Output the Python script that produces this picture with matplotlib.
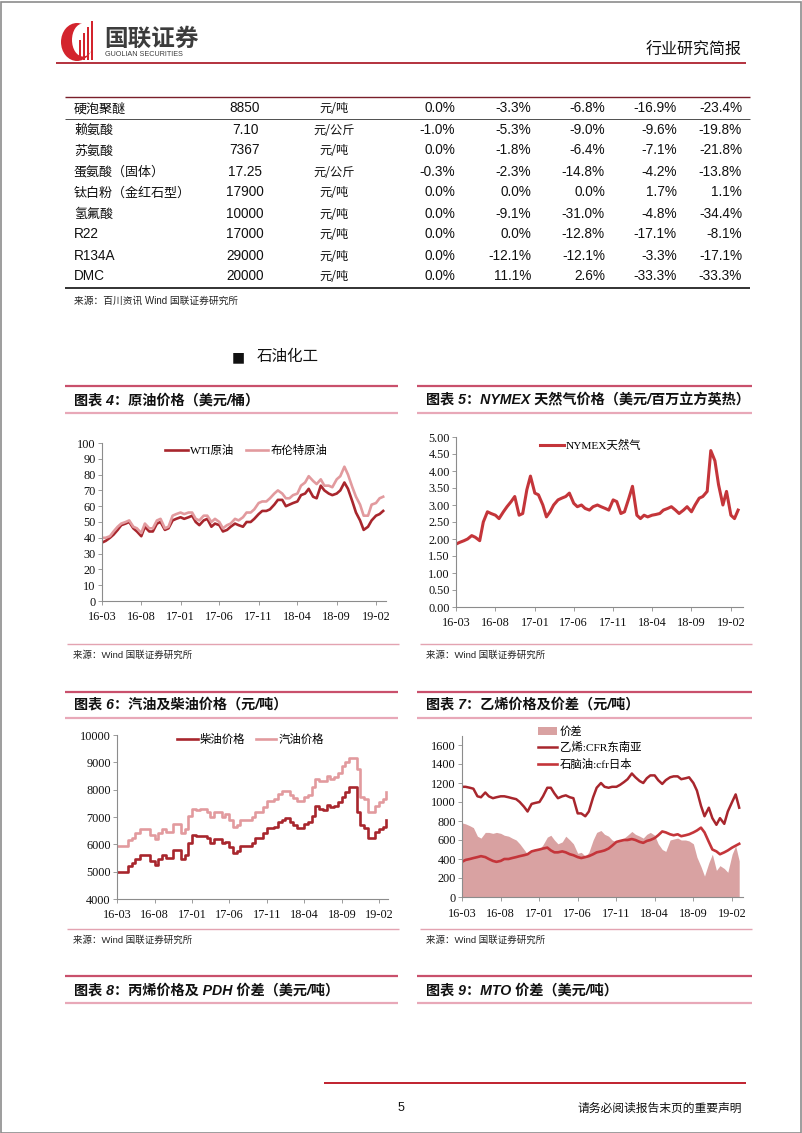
import numpy as np
import pandas as pd
import matplotlib
matplotlib.use("Agg")
import matplotlib.pyplot as plt
from matplotlib.lines import Line2D
from matplotlib.patches import Rectangle, Ellipse, Patch
from matplotlib.font_manager import FontProperties

# ---------------- data ----------------
# table
names = ['硬泡聚醚', '赖氨酸', '苏氨酸', '蛋氨酸（固体）', '钛白粉（金红石型）', '氢氟酸', 'R22', 'R134A', 'DMC']
prices = ['8850', '7.10', '7367', '17.25', '17900', '10000', '17000', '29000', '20000']
units = ['元/吨', '元/公斤', '元/吨', '元/公斤', '元/吨', '元/吨', '元/吨', '元/吨', '元/吨']
chg_a = [0.0, -1.0, 0.0, -0.3, 0.0, 0.0, 0.0, 0.0, 0.0]
chg_b = [-3.3, -5.3, -1.8, -2.3, 0.0, -9.1, 0.0, -12.1, 11.1]
chg_c = [-6.8, -9.0, -6.4, -14.8, 0.0, -31.0, -12.8, -12.1, 2.6]
chg_d = [-16.9, -9.6, -7.1, -4.2, 1.7, -4.8, -17.1, -3.3, -33.3]
chg_e = [-23.4, -19.8, -21.8, -13.8, 1.1, -34.4, -8.1, -17.1, -33.3]

# semi-monthly observations, 2016-03-01 ... 2019-03-01
dates = pd.date_range('2016-03-01', periods=73, freq='SMS')
tick_labels = ['16-03', '16-08', '17-01', '17-06', '17-11', '18-04', '18-09', '19-02']

wti = [37, 38, 40, 42, 45, 48, 49, 50, 46, 44, 41, 47, 44, 44, 49, 50, 45, 46, 51, 52,
       53, 52, 53, 54, 50, 48, 51, 52, 47, 49, 48, 44, 45, 47, 49, 48, 47, 50, 50, 52, 55, 57, 57, 58,
       61, 64, 64, 60, 61, 62, 63, 67, 68, 71, 66, 65, 73, 70, 68, 67, 68, 70, 75, 71, 63, 56, 51, 45,
       47, 51, 54, 55, 57]
brent = [40, 40, 41, 44, 47, 49, 50, 51, 47, 46, 43, 49, 46, 46, 51, 52, 46, 47, 54, 55,
         56, 55, 56, 56, 52, 51, 54, 54, 50, 52, 50, 46, 48, 49, 52, 51, 53, 56, 56, 58, 62, 63, 63, 65,
         68, 70, 68, 65, 65, 67, 68, 73, 75, 79, 76, 74, 77, 73, 73, 72, 77, 79, 85, 80, 72, 66, 61, 54,
         54, 61, 62, 65, 66]
nymex = [1.85, 1.90, 1.95, 2.00, 2.10, 2.05, 1.95, 2.50, 2.80, 2.75, 2.70, 2.60, 2.80, 2.95, 3.10, 3.25,
         2.70, 2.75, 3.45, 3.85,
         3.35, 3.30, 3.00, 2.65, 2.80, 3.00, 3.15, 3.20, 3.25, 3.35, 3.05, 2.95, 3.00, 2.90, 2.85, 2.95,
         3.00, 2.95, 2.90, 2.85, 3.15, 3.10, 2.75, 2.80,
         3.20, 3.55, 2.70, 2.60, 2.70, 2.65, 2.70, 2.72, 2.75, 2.85, 2.90, 2.95, 2.85, 2.75, 2.85, 2.95,
         2.80, 3.00, 3.20, 3.25, 3.40, 4.60, 4.30, 3.60,
         3.00, 3.40, 2.70, 2.60, 2.85]
diesel = [5000, 5000, 5000, 5200, 5300, 5450, 5600, 5600, 5600, 5400, 5250, 5450, 5600, 5500, 5500, 5800,
          5800, 5450, 5600, 6050,
          6350, 6300, 6300, 6300, 6250, 6050, 6200, 6200, 6050, 6100, 5900, 5700, 5750, 5950, 5950, 5950,
          6050, 6250, 6250, 6400, 6600, 6600, 6650, 6800,
          6900, 6950, 6800, 6700, 6600, 6600, 6750, 6800, 7050, 7400, 7300, 7250, 7450, 7350, 7400, 7550,
          7750, 7900, 8100, 8100, 7200, 6700, 6600, 6250,
          6250, 6450, 6550, 6650, 6900]
gasoline = [5950, 5950, 5950, 6150, 6250, 6400, 6550, 6550, 6550, 6350, 6200, 6400, 6550, 6450, 6450, 6750,
            6750, 6400, 6550, 7050,
            7300, 7250, 7300, 7300, 7200, 7000, 7200, 7200, 7000, 7100, 6900, 6650, 6700, 6900, 6900, 6900,
            7000, 7200, 7200, 7350, 7600, 7600, 7650, 7850,
            7950, 7950, 7800, 7700, 7600, 7600, 7750, 7800, 8100, 8400, 8300, 8300, 8500, 8400, 8450, 8600,
            8850, 9000, 9150, 9150, 8750, 7750, 7650, 7200,
            7200, 7400, 7550, 7650, 7900]
ethylene = [1160, 1160, 1150, 1140, 1060, 1050, 1100, 1060, 1040, 1050, 1060, 1060, 1050, 1040, 1030, 1000,
            950, 900, 980, 990,
            1000, 1060, 1150, 1150, 1090, 1040, 1060, 1070, 1050, 1040, 880, 880, 850, 900, 1050, 1150,
            1200, 1160, 1150, 1160, 1160, 1180, 1210, 1240,
            1300, 1260, 1220, 1200, 1250, 1280, 1280, 1230, 1190, 1230, 1260, 1270, 1270, 1240, 1250, 1260,
            1200, 1120, 960, 850, 940, 830, 760, 830,
            770, 900, 1000, 1080, 940]
naphtha = [370, 390, 400, 410, 420, 430, 420, 400, 380, 370, 380, 400, 400, 410, 420, 430, 440, 450, 480, 490,
           500, 510, 520, 490, 470, 470, 480, 470, 450, 440, 420, 410, 420, 430, 450, 470, 480, 490, 510, 540,
           580, 590, 600, 600,
           610, 600, 580, 570, 590, 600, 620, 650, 690, 680, 660, 650, 660, 640, 650, 660, 680, 700, 730, 680,
           580, 500, 480, 450,
           470, 490, 520, 540, 560]
spread = [780, 770, 750, 730, 640, 620, 680, 680, 670, 680, 670, 650, 640, 620, 600, 560, 500, 450, 480, 500,
          500, 550, 630, 650, 600, 560, 580, 640, 600, 560, 460, 470, 430, 470, 600, 680, 700, 660, 640, 600,
          580, 600, 620, 650,
          690, 660, 640, 620, 660, 680, 650, 560, 500, 480, 600, 610, 620, 600, 600, 590, 560, 420, 320, 220,
          360, 450, 280, 330,
          300, 260, 450, 540, 380]

# ---------------- helpers ----------------
W, H = 802, 1133
fig = plt.figure(figsize=(W / 100, H / 100), dpi=100)
fig.patch.set_facecolor('white')

CJK = 'Noto Sans CJK SC'
SANS = ['Liberation Sans', CJK]
SERIF = ['Liberation Serif', CJK]


def ax_px(l, t, r, b):
    return fig.add_axes([l / W, 1 - b / H, (r - l) / W, (b - t) / H])


def hline(x0, x1, y, color, lw):
    fig.add_artist(Line2D([x0 / W, x1 / W], [1 - y / H, 1 - y / H], transform=fig.transFigure,
                          color=color, lw=lw, solid_capstyle='butt'))


def txt(x, y, s, **kw):
    kw.setdefault('va', 'center')
    fig.text(x / W, 1 - y / H, s, **kw)


def btxt(x, y, s, **kw):
    # baseline-aligned text; y is the visual middle of the row
    kw['va'] = 'baseline'
    fig.text(x / W, 1 - (y + 4.5) / H, s, **kw)


def has_cjk(s):
    return any(ord(ch) > 0x2E80 for ch in s)


# page frame
fig.add_artist(Rectangle((0.5 / W, 0.5 / H), (W - 1.5) / W, (H - 2) / H, transform=fig.transFigure,
                         fill=False, ec='#8c8c8c', lw=1.2))

# ---------------- header ----------------
red = '#D3242D'
fig.add_artist(Ellipse((77 / W, 1 - 42 / H), 32 / W, 38 / H, transform=fig.transFigure, color=red, lw=0))
fig.add_artist(Ellipse((83 / W, 1 - 40 / H), 22 / W, 33 / H, transform=fig.transFigure, color='white', lw=0))
for bx, top in zip([79, 83, 87, 91], [40, 33, 27, 21]):
    fig.add_artist(Rectangle((bx / W, 1 - 60 / H), 2.4 / W, (60 - top) / H, transform=fig.transFigure,
                             color=red, lw=0))
txt(104, 39, '国联证券', fontsize=17, fontweight='bold', color='#3c3c3c', family=CJK)
txt(105, 54, 'GUOLIAN SECURITIES', fontsize=5.2, color='#3c3c3c', family='Liberation Sans')
txt(742, 50, '行业研究简报', fontsize=11.5, color='#111111', family=CJK, ha='right')
hline(56, 746, 63, '#B3313D', 1.4)

# ---------------- table ----------------
hline(65, 750, 97, '#7a1f2a', 1.0)
hline(65, 750, 119, '#333333', 0.6)
hline(65, 750, 288, '#222222', 1.3)
row_y = [108 + 21 * i for i in range(len(names))]
pct_cols = [(455, chg_a), (531, chg_b), (605, chg_c), (677, chg_d), (742, chg_e)]
for i, y in enumerate(row_y):
    nm = names[i]
    if has_cjk(nm):
        btxt(74, y, nm, fontsize=9.4, family=CJK, color='#111111')
    else:
        btxt(74, y, nm, fontsize=9.8, family='Liberation Sans', color='#111111')
    btxt(245, y, prices[i], fontsize=9.8, family='Liberation Sans', ha='center', color='#111111')
    btxt(334, y, units[i], fontsize=8.8, family=CJK, ha='center', color='#111111')
    for xr, col in pct_cols:
        btxt(xr, y, f'{col[i]:.1f}%', fontsize=9.8, family='Liberation Sans', ha='right', color='#111111')
btxt(74, 299, '来源：百川资讯 Wind 国联证券研究所', fontsize=7, family=SANS, color='#222222')

# section heading
txt(238, 357, '■', fontsize=10, family='DejaVu Sans', ha='center', color='#111111')
txt(257, 357, '石油化工', fontsize=11.2, family=CJK, color='#111111')

# ---------------- chart titles ----------------
top_c, bot_c = '#C9506C', '#E8A8B8'


def title_box(x0, x1, yt, yb, ytext, s):
    hline(x0, x1, yt, top_c, 1.6)
    hline(x0, x1, yb, bot_c, 1.6)
    txt(x0 + 9, ytext, s, fontsize=10.2, fontweight='bold', style='italic', family=SANS, color='#111111')


title_box(65, 398, 386, 413, 400, '图表 4：原油价格（美元/桶）')
title_box(417, 752, 386, 413, 400, '图表 5：NYMEX 天然气价格（美元/百万立方英热）')
title_box(65, 398, 692, 718, 705, '图表 6：汽油及柴油价格（元/吨）')
title_box(417, 752, 692, 718, 705, '图表 7：乙烯价格及价差（元/吨）')
title_box(65, 398, 976, 1003, 990, '图表 8：丙烯价格及 PDH 价差（美元/吨）')
title_box(417, 752, 976, 1003, 990, '图表 9：MTO 价差（美元/吨）')

# source lines
for x0, x1, yl, yt in [(67, 399, 644, 655), (420, 752, 644, 655), (67, 399, 929, 940), (420, 752, 929, 940)]:
    hline(x0, x1, yl, '#E3A3B1', 1.0)
    txt(x0 + 6, yt, '来源：Wind 国联证券研究所', fontsize=6.8, family=SANS, color='#222222')

# footer
hline(324, 746, 1083, '#C0202E', 1.4)
txt(401, 1108, '5', fontsize=9, family='Liberation Sans', ha='center', color='#111111')
txt(742, 1108, '请务必阅读报告末页的重要声明', fontsize=8.5, family=CJK, ha='right', color='#111111')

# ---------------- charts ----------------
tick_pos = [pd.Timestamp('20' + s + '-01') for s in tick_labels]
xd = dates.to_pydatetime()
leg_font = FontProperties(family=SERIF, size=8.2)


def style(ax, ylim, yticks, yfmt, xright, xpad=4.0):
    ax.set_xlim(dates[0], pd.Timestamp(xright))
    ax.set_ylim(*ylim)
    ax.set_yticks(yticks)
    ax.set_yticklabels([yfmt.format(v) for v in yticks])
    ax.set_xticks(tick_pos)
    ax.set_xticklabels(tick_labels)
    for s in ['top', 'right']:
        ax.spines[s].set_visible(False)
    for s in ['left', 'bottom']:
        ax.spines[s].set_color('#8c8c8c')
        ax.spines[s].set_linewidth(0.8)
    ax.tick_params(axis='both', direction='out', length=3, width=0.6, color='#8c8c8c', labelsize=8.8)
    ax.tick_params(axis='y', pad=1.5)
    ax.tick_params(axis='x', pad=xpad)
    for lab in ax.get_xticklabels() + ax.get_yticklabels():
        lab.set_fontfamily('Liberation Serif')
        lab.set_color('#111111')
    ax.patch.set_alpha(0)


def legend(ax, x, y, ncol, **kw):
    opts = dict(ncol=ncol, loc='upper left', bbox_to_anchor=(x / W, 1 - y / H), bbox_transform=fig.transFigure,
                frameon=False, prop=leg_font, borderpad=0, borderaxespad=0, handletextpad=0.2)
    opts.update(kw)
    return ax.legend(**opts)


c_dark = '#A8262D'
c_light = '#E29A9E'
c_red = '#C4353A'

# chart 4: crude oil
ax4 = ax_px(102, 443, 386, 601)
ax4.plot(xd, wti, color=c_dark, lw=1.9, label='WTI原油')
ax4.plot(xd, brent, color=c_light, lw=1.9, label='布伦特原油')
style(ax4, (0, 100), list(range(0, 101, 10)), '{:d}', '2019-03-12')
legend(ax4, 165, 445, 2, handlelength=2.0, columnspacing=1.0)

# chart 5: NYMEX natural gas
ax5 = ax_px(456, 437, 743, 607)
ax5.plot(xd, nymex, color=c_red, lw=2.2, label='NYMEX天然气')
style(ax5, (0, 5), [i * 0.5 for i in range(11)], '{:.2f}', '2019-03-20')
legend(ax5, 540, 440, 1, handlelength=2.1)

# chart 6: diesel & gasoline
ax6 = ax_px(117, 735, 388, 899)
ax6.step(xd, diesel, where='post', color=c_dark, lw=1.9, label='柴油价格')
ax6.step(xd, gasoline, where='post', color=c_light, lw=1.9, label='汽油价格')
style(ax6, (4000, 10000), list(range(4000, 10001, 1000)), '{:d}', '2019-03-08')
legend(ax6, 177, 734, 2, handlelength=1.8, columnspacing=0.9)

# chart 7: ethylene, naphtha, spread
ax7 = ax_px(462, 735.5, 743, 897)
ax7.fill_between(xd, 0, spread, color='#D9A2A2', lw=0, label='价差')
ax7.plot(xd, ethylene, color=c_dark, lw=1.8, label='乙烯:CFR东南亚')
ax7.plot(xd, naphtha, color=c_red, lw=1.9, label='石脑油:cfr日本')
style(ax7, (0, 1700), list(range(0, 1601, 200)), '{:d}', '2019-03-16', xpad=5)
legend(ax7, 538, 726, 1, handlelength=1.7, labelspacing=0.5)

fig.savefig('out.png', dpi=100, facecolor='white')
